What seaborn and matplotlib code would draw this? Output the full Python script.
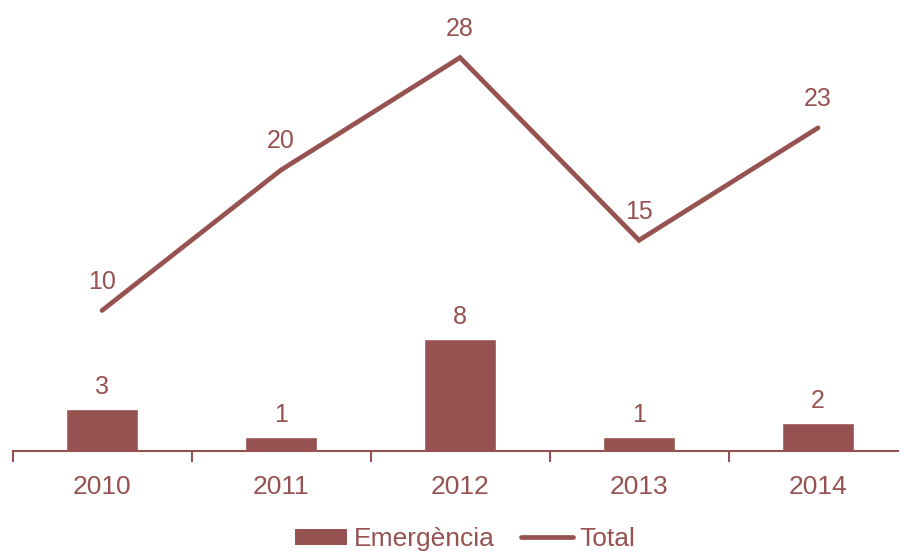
import numpy as np
import pandas as pd
import matplotlib
matplotlib.use("Agg")
import matplotlib.pyplot as plt
from matplotlib.patches import Patch
from matplotlib.lines import Line2D
from matplotlib.ticker import FixedLocator
import seaborn as sns

years = ["2010", "2011", "2012", "2013", "2014"]
emergencia = [3, 1, 8, 1, 2]
total = [10, 20, 28, 15, 23]

COLOR = "#965250"
LABEL_SIZE = 18
AXIS_SIZE = 19

sns.set_theme(style="white")
plt.rcParams["font.family"] = ["Liberation Sans", "DejaVu Sans"]

df = pd.DataFrame({"year": years, "Emergència": emergencia, "Total": total})
df["pos"] = np.arange(len(years))

fig = plt.figure(figsize=(8.99, 5.52), dpi=100)
ax = fig.add_axes([12.5 / 899, 101 / 552, 895 / 899, 421.5 / 552])

sns.barplot(data=df, x="year", y="Emergència", color=COLOR, saturation=1,
            width=0.4, ax=ax, zorder=2)
sns.lineplot(data=df, x="pos", y="Total", color=COLOR, linewidth=3.4,
             ax=ax, zorder=3, solid_capstyle="round", solid_joinstyle="miter")

# value labels above bars
for container in ax.containers:
    ax.bar_label(container, labels=[str(v) for v in emergencia], padding=7,
                 color=COLOR, fontsize=LABEL_SIZE)

# value labels above line points
for x, v in zip(df["pos"], total):
    ax.annotate(str(v), (x, v), xytext=(0, 12), textcoords="offset points",
                ha="center", va="bottom", color=COLOR, fontsize=LABEL_SIZE)

ax.set_xlim(-0.5, len(years) - 0.5)
ax.set_ylim(0, 30)
ax.set_xlabel("")
ax.set_ylabel("")
ax.set_yticks([])

for side in ["top", "right", "left"]:
    ax.spines[side].set_visible(False)
ax.spines["bottom"].set_color(COLOR)
ax.spines["bottom"].set_linewidth(1.5)

ax.tick_params(axis="x", which="major", length=0, pad=17,
               labelsize=AXIS_SIZE, labelcolor=COLOR)
ax.xaxis.set_minor_locator(FixedLocator(np.arange(-0.5, len(years), 1.0)))
ax.tick_params(axis="x", which="minor", length=8, width=1.5, color=COLOR,
               direction="out", bottom=True)

handles = [
    Patch(facecolor=COLOR, edgecolor="none", label="Emergència"),
    Line2D([0], [0], color=COLOR, linewidth=3.4, label="Total"),
]
fig.legend(handles=handles, loc="center", bbox_to_anchor=(465.5 / 899, 13 / 552),
           ncol=2, frameon=False, fontsize=AXIS_SIZE, labelcolor=COLOR,
           handlelength=1.95, handleheight=0.55, handletextpad=0.27,
           columnspacing=1.0, borderpad=0.2)

fig.savefig("out.png", dpi=100)
